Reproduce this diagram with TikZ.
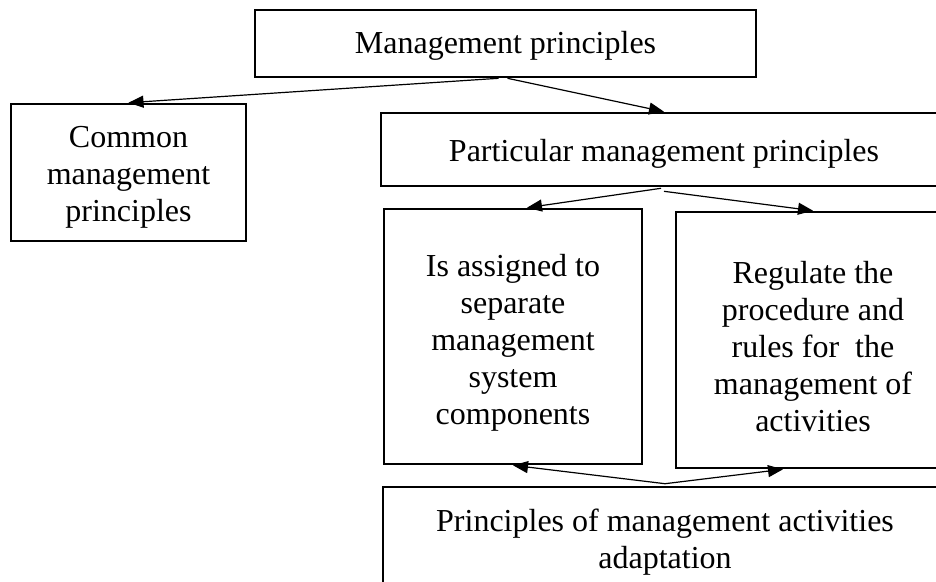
\documentclass[tikz,border=0pt]{standalone}
\usepackage{fontspec}
\setmainfont{Liberation Serif}
\usetikzlibrary{arrows.meta,calc}
\newcommand\lowtext[2]{\raisebox{-#1}[\height][\depth]{\begin{tabular}{@{}c@{}}#2\end{tabular}}}
\begin{document}
\begin{tikzpicture}[x=1pt,y=-1pt,
  box/.style={draw=black,line width=2.6pt,inner sep=0pt,align=center,
    font=\fontsize{32}{37}\selectfont},
  conn/.style={line width=1.2pt,-{Triangle[length=15pt,width=12pt]}}]
\useasboundingbox (0,0) rectangle (936,581);
\clip (0,0) rectangle (936,581);
\node[box,minimum width=501pt,minimum height=67pt] (top) at (505.5,43.5) {\lowtext{3pt}{Management principles}};
\node[box,minimum width=235pt,minimum height=137pt] (common) at (128.5,172.5) {\lowtext{5pt}{Common\\management\\principles}};
\node[box,minimum width=566pt,minimum height=73pt] (part) at (664,149.5) {\lowtext{5pt}{Particular management principles}};
\node[box,minimum width=258pt,minimum height=255pt] (assign) at (513,336.5) {\lowtext{7pt}{Is assigned to\\separate\\management\\system\\components}};
\node[box,minimum width=274pt,minimum height=256pt] (reg) at (813,340) {\lowtext{10pt}{Regulate the\\procedure and\\rules for\ \ the\\management of\\activities}};
\node[box,minimum width=564pt,minimum height=106pt] (adapt) at (665,540) {\lowtext{3pt}{Principles of management activities\\adaptation}};
\draw[conn] ($(top.south)+(-7,0)$) -- (common.north);
\draw[conn] ($(top.south)+(2,0)$) -- (part.north);
\draw[conn] ($(part.south)+(-3,1)$) -- ($(assign.north)+(14,0)$);
\draw[conn] ($(part.south)+(0,4)$) -- (reg.north);
\draw[conn] ($(adapt.north)+(0,-2)$) -- (assign.south);
\draw[conn] ($(adapt.north)+(0,-2)$) -- ($(reg.south)+(-30,0)$);
\end{tikzpicture}
\end{document}
